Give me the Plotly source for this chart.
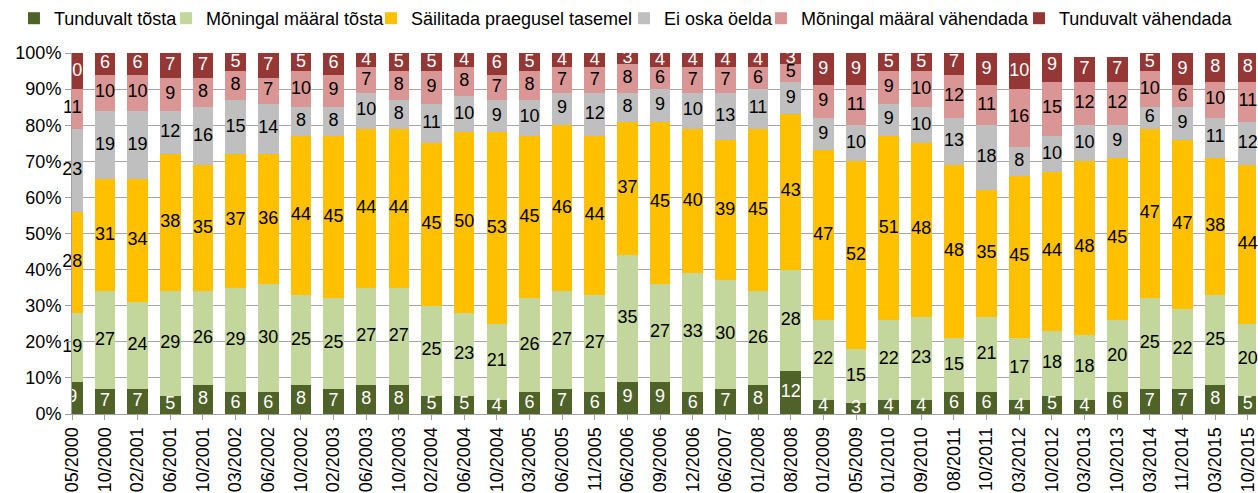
import plotly.graph_objects as go
import numpy as np

categories = ["05/2000", "10/2000", "02/2001", "06/2001", "10/2001", "03/2002", "06/2002",
              "10/2002", "02/2003", "06/2003", "10/2003", "02/2004", "06/2004", "10/2004",
              "03/2005", "06/2005", "11/2005", "06/2006", "09/2006", "12/2006", "06/2007",
              "01/2008", "08/2008", "01/2009", "05/2009", "01/2010", "09/2010", "08/2011",
              "10/2011", "03/2012", "10/2012", "03/2013", "10/2013", "03/2014", "11/2014",
              "03/2015", "10/2015"]

tunduvalt_tosta = [9, 7, 7, 5, 8, 6, 6, 8, 7, 8, 8, 5, 5, 4, 6, 7, 6, 9, 9, 6, 7, 8, 12,
                   4, 3, 4, 4, 6, 6, 4, 5, 4, 6, 7, 7, 8, 5]
moningal_tosta = [19, 27, 24, 29, 26, 29, 30, 25, 25, 27, 27, 25, 23, 21, 26, 27, 27, 35, 27,
                  33, 30, 26, 28, 22, 15, 22, 23, 15, 21, 17, 18, 18, 20, 25, 22, 25, 20]
sailitada = [28, 31, 34, 38, 35, 37, 36, 44, 45, 44, 44, 45, 50, 53, 45, 46, 44, 37, 45, 40,
             39, 45, 43, 47, 52, 51, 48, 48, 35, 45, 44, 48, 45, 47, 47, 38, 44]
ei_oska = [23, 19, 19, 12, 16, 15, 14, 8, 8, 10, 8, 11, 10, 9, 10, 9, 12, 8, 9, 10, 13, 11, 9,
           9, 10, 9, 10, 13, 18, 8, 10, 10, 9, 6, 9, 11, 12]
moningal_vahendada = [11, 10, 10, 9, 8, 8, 7, 10, 9, 7, 8, 9, 8, 7, 8, 7, 7, 8, 6, 7, 7, 6, 5,
                      9, 11, 9, 10, 12, 11, 16, 15, 12, 12, 10, 6, 10, 11]
tunduvalt_vahendada = [10, 6, 6, 7, 7, 5, 7, 5, 6, 4, 5, 5, 4, 6, 5, 4, 4, 3, 4, 4, 4, 4, 3,
                       9, 9, 5, 5, 7, 9, 10, 9, 7, 7, 5, 9, 8, 8]

series_names = ["Tunduvalt tõsta", "Mõningal määral tõsta", "Säilitada praegusel tasemel",
                "Ei oska öelda", "Mõningal määral vähendada", "Tunduvalt vähendada"]
series_values = [tunduvalt_tosta, moningal_tosta, sailitada, ei_oska, moningal_vahendada,
                 tunduvalt_vahendada]
colors = ["#4F6228", "#C3D69B", "#FFC000", "#BFBFBF", "#D99694", "#953735"]
text_colors = ["white", "black", "black", "black", "black", "white"]

FONT = "Liberation Sans, Arial, sans-serif"

fig = go.Figure()
bottom = np.zeros(len(categories))
legend_x = [0.0111, 0.1320, 0.2949, 0.4960, 0.6049, 0.8100]
for i, (name, vals) in enumerate(zip(series_names, series_values)):
    v = np.array(vals, dtype=float)
    lg = "legend" if i == 0 else f"legend{i+1}"
    fig.add_trace(go.Bar(
        x=categories, y=v, name=name, marker=dict(color=colors[i], line=dict(width=0)),
        legend=lg, hoverinfo="skip"))
    fig.add_trace(go.Scatter(
        x=categories, y=bottom + v / 2, mode="text", text=[str(int(a)) for a in v],
        textfont=dict(family=FONT, size=18, color=text_colors[i]),
        showlegend=False, cliponaxis=False, hoverinfo="skip"))
    bottom = bottom + v

layout_legends = {}
for i in range(6):
    key = "legend" if i == 0 else f"legend{i+1}"
    layout_legends[key] = dict(
        x=legend_x[i], y=1.0, xref="container", yref="container",
        xanchor="left", yanchor="top", orientation="h",
        bgcolor="rgba(0,0,0,0)", font=dict(family=FONT, size=18, color="black"),
        itemwidth=30, tracegroupgap=0)

fig.update_layout(
    width=1258, height=493,
    margin=dict(l=72, r=0, t=53, b=79),
    barmode="stack", bargap=0.37,
    paper_bgcolor="white", plot_bgcolor="white",
    font=dict(family=FONT, size=18, color="black"),
    **layout_legends,
)
fig.update_xaxes(
    type="category", range=[-0.01, 36.25], tickangle=-90,
    showline=True, linecolor="#A0A0A0", linewidth=1,
    ticks="outside", ticklen=5, tickcolor="#A0A0A0",
    tickfont=dict(family=FONT, size=18, color="black"), showgrid=False)
fig.update_yaxes(
    range=[0, 100], tick0=0, dtick=10, ticksuffix="%",
    showline=True, linecolor="#A0A0A0", linewidth=1,
    ticks="outside", ticklen=6, tickcolor="#A0A0A0",
    showgrid=True, gridcolor="#A6A6A6", gridwidth=1,
    tickfont=dict(family=FONT, size=18, color="black"), zeroline=False)

fig.write_html("out.html", config={"displayModeBar": False},
               post_script="document.body.style.margin='0';document.body.style.overflow='hidden';")
